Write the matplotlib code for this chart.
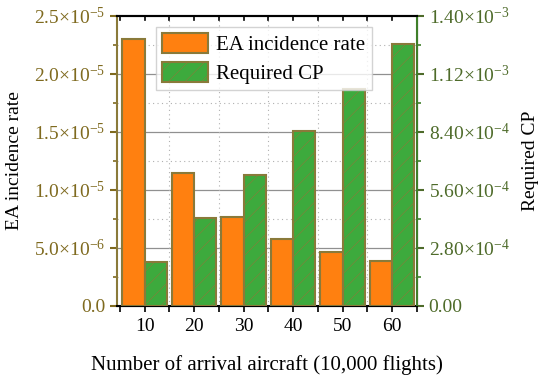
import matplotlib
matplotlib.use("Agg")
import matplotlib.pyplot as plt
import numpy as np
from matplotlib.ticker import FixedLocator, FuncFormatter

plt.rcParams["font.family"] = ["Liberation Serif", "DejaVu Serif"]
plt.rcParams["mathtext.fontset"] = "custom"
plt.rcParams["mathtext.rm"] = "Liberation Serif"
plt.rcParams["mathtext.it"] = "Liberation Serif:italic"

# data
aircraft = ["10", "20", "30", "40", "50", "60"]
ea_rate = [2.30e-5, 1.15e-5, 7.7e-6, 5.75e-6, 4.68e-6, 3.88e-6]
required_cp = [2.14e-4, 4.23e-4, 6.33e-4, 8.45e-4, 1.047e-3, 1.264e-3]
left_ticks = [0, 5e-6, 1e-5, 1.5e-5, 2e-5, 2.5e-5]
right_ticks = [0, 2.8e-4, 5.6e-4, 8.4e-4, 1.12e-3, 1.4e-3]

ORANGE = "#FF8010"
GREEN = "#3DAA3D"
EDGE = "#8A7A3A"
LEFT_COL = "#7F6A1F"
RIGHT_COL = "#4E6B2A"
RIGHT_SPINE = "#3F7F2A"


def sci_fmt(decimals):
    def fmt(v, pos):
        if v == 0:
            return "0." + "0" * decimals
        exp = int(np.floor(np.log10(abs(v)) + 1e-9))
        mant = v / 10 ** exp
        return f"{mant:.{decimals}f}$\\times$10$^{{{exp}}}$"
    return fmt


fig = plt.figure(figsize=(5.5, 3.8), dpi=100)
ax = fig.add_axes([0.2127, 0.195, 0.545, 0.763])
ax2 = ax.twinx()

x = np.arange(len(aircraft))
w = 0.45
ax.bar(x - w / 2, ea_rate, w, color=ORANGE, edgecolor=EDGE, linewidth=1.5,
       label="EA incidence rate", zorder=3)
plt.rcParams["hatch.color"] = "#2E8F2E"
plt.rcParams["hatch.linewidth"] = 0.4
ax2.bar(x + w / 2, required_cp, w, color=GREEN, edgecolor=EDGE, linewidth=1.5,
        hatch="//", label="Required CP", zorder=3)

ax.set_xlim(-0.56, 5.5)
ax.set_ylim(0, 2.5e-5)
ax2.set_ylim(0, 1.4e-3)

ax.set_xticks(x)
ax.set_xticklabels(aircraft, fontsize=14)
ax.xaxis.set_minor_locator(FixedLocator(np.arange(-0.5, 6, 1.0)))
ax.tick_params(axis="x", which="major", length=4, width=1.2, direction="out", pad=5)
ax.tick_params(axis="x", which="minor", length=4, direction="out", width=1.2)

ax.yaxis.set_major_locator(FixedLocator(left_ticks))
ax.yaxis.set_minor_locator(FixedLocator(np.arange(0, 2.6e-5, 2.5e-6)))
ax.yaxis.set_major_formatter(FuncFormatter(sci_fmt(1)))
ax.tick_params(axis="y", which="major", length=5, width=1.5, colors=LEFT_COL, labelsize=14)
ax.tick_params(axis="y", which="minor", length=3, width=1.2, colors=LEFT_COL)

ax2.yaxis.set_major_locator(FixedLocator(right_ticks))
ax2.yaxis.set_minor_locator(FixedLocator(np.arange(0, 1.45e-3, 1.4e-4)))
ax2.yaxis.set_major_formatter(FuncFormatter(sci_fmt(2)))
ax2.tick_params(axis="y", which="major", length=5, width=1.5, colors=RIGHT_COL, labelsize=14)
ax2.tick_params(axis="y", which="minor", length=3, width=1.2, colors=RIGHT_SPINE)

# grid: solid at major, dotted at minor
for yv in left_ticks[1:-1]:
    ax.axhline(yv, color="#909090", linewidth=0.9, zorder=1)
for yv in np.arange(2.5e-6, 2.5e-5, 5e-6):
    ax.axhline(yv, color="#B0B0B0", linewidth=0.8, linestyle=(0, (1, 3)), zorder=1)
for xv in np.arange(0.5, 5.5, 1.0):
    ax.axvline(xv, color="#B0B0B0", linewidth=0.8, linestyle=(0, (1, 3)), zorder=1)

# top inward ticks
for xv in np.arange(-0.5, 6, 0.5):
    if -0.56 < xv < 5.5:
        ax.plot([xv, xv], [2.5e-5, 2.5e-5 * 0.985], color="black", linewidth=1.2,
                zorder=4, clip_on=False)

ax.spines["left"].set_color(EDGE)
ax.spines["left"].set_linewidth(1.5)
ax.spines["bottom"].set_linewidth(1.5)
ax.spines["top"].set_linewidth(1.5)
ax2.spines["right"].set_color(RIGHT_SPINE)
ax2.spines["right"].set_linewidth(1.5)
ax2.spines["left"].set_visible(False)
ax2.spines["top"].set_linewidth(1.5)

ax.set_ylabel("EA incidence rate", fontsize=14, labelpad=8)
ax2.set_ylabel("Required CP", fontsize=14, labelpad=9)
ax.set_xlabel("Number of arrival aircraft (10,000 flights)", fontsize=15, labelpad=14)

h1, l1 = ax.get_legend_handles_labels()
h2, l2 = ax2.get_legend_handles_labels()
leg = ax2.legend(h1 + h2, l1 + l2, loc="upper center", bbox_to_anchor=(0.49, 0.962),
                 fontsize=15, frameon=True, fancybox=False, edgecolor="#C8C8C8",
                 handlelength=2.2, handleheight=1.1, borderpad=0.3, labelspacing=0.3,
                 handletextpad=0.4, borderaxespad=0.0)
leg.get_frame().set_linewidth(1.0)
leg.set_zorder(10)

fig.savefig("out.png", dpi=100, facecolor="white")
